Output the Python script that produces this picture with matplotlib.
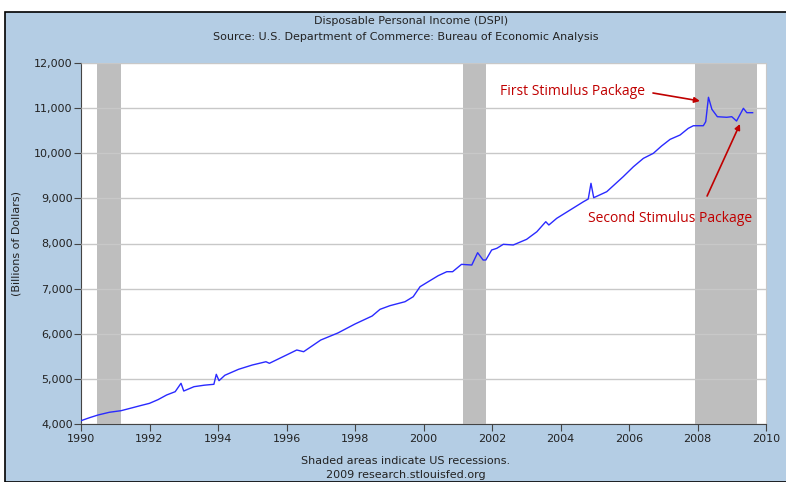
import matplotlib.pyplot as plt
import matplotlib.patches as patches
from matplotlib.ticker import FuncFormatter

# DSPI, billions of dollars (decimal years)
years = [1990.00, 1990.25, 1990.50, 1990.83, 1991.17, 1991.50, 1991.75, 1992.00,
         1992.25, 1992.50, 1992.75, 1992.92, 1993.00, 1993.30, 1993.60, 1993.88,
         1993.95, 1994.03, 1994.20, 1994.60, 1995.00, 1995.40, 1995.50, 1996.00,
         1996.30, 1996.50, 1997.00, 1997.50, 1998.00, 1998.50, 1998.73, 1999.02,
         1999.46, 1999.70, 1999.90, 2000.14, 2000.43, 2000.68, 2000.85, 2001.11,
         2001.41, 2001.58, 2001.74, 2001.82, 2001.99, 2002.14, 2002.33, 2002.62,
         2003.01, 2003.31, 2003.57, 2003.66, 2003.89, 2004.28, 2004.67, 2004.81,
         2004.89, 2004.97, 2005.35, 2005.83, 2005.98, 2006.13, 2006.42, 2006.71,
         2006.95, 2007.20, 2007.49, 2007.73, 2007.88, 2008.17, 2008.24, 2008.32,
         2008.42, 2008.58, 2008.85, 2009.00, 2009.14, 2009.34, 2009.44, 2009.61]
dspi = [4073, 4140, 4200, 4260, 4295, 4360, 4410, 4458,
        4540, 4643, 4716, 4902, 4731, 4827, 4860, 4880,
        5101, 4960, 5080, 5212, 5307, 5380, 5345, 5529,
        5640, 5602, 5861, 6017, 6216, 6393, 6541, 6622,
        6710, 6821, 7043, 7154, 7287, 7375, 7375, 7538,
        7523, 7796, 7634, 7634, 7856, 7893, 7982, 7967,
        8092, 8261, 8483, 8410, 8558, 8742, 8926, 8986,
        9334, 9015, 9148, 9480, 9591, 9702, 9887, 9998,
        10160, 10308, 10404, 10552, 10610, 10610, 10699, 11240,
        10974, 10810, 10797, 10810, 10714, 10996, 10899, 10899]

recessions = [(1990.47, 1991.17), (2001.15, 2001.82), (2007.92, 2009.74)]
yticks = [4000, 5000, 6000, 7000, 8000, 9000, 10000, 11000, 12000]
xticks = list(range(1990, 2011, 2))

bg = '#b4cde4'
red = '#c00000'
txt = '#222222'

fig = plt.figure(figsize=(7.86, 4.82), dpi=100)
fig.patch.set_facecolor('white')
fig.patches.append(patches.Rectangle((5/786, 0), 1, 1 - 12/482, transform=fig.transFigure,
                                     facecolor=bg, edgecolor='black', linewidth=1.2, zorder=-10))

ax = fig.add_axes([81/786, 58/482, 685/786, 361/482])
ax.set_facecolor('white')

for a, b in recessions:
    ax.axvspan(a, b, color='#bebebe', lw=0, zorder=1)

ax.plot(years, dspi, color='#2a2aff', lw=1.0, zorder=3)

ax.set_xlim(1990, 2010)
ax.set_ylim(4000, 12000)
ax.set_xticks(xticks)
ax.set_yticks(yticks)
ax.yaxis.set_major_formatter(FuncFormatter(lambda v, p: f'{int(v):,}'))
ax.grid(axis='y', color='#c8c8c8', lw=1, zorder=2)
ax.set_axisbelow(False)
for s in ['left', 'bottom']:
    ax.spines[s].set_color('#444444')
ax.spines['top'].set_visible(False)
ax.spines['right'].set_color('#c8c8c8')
ax.tick_params(direction='out', length=5, color='#444444', labelsize=8, labelcolor=txt)
ax.tick_params(axis='y', pad=1)
ax.tick_params(axis='x', pad=2)
ax.set_ylabel('(Billions of Dollars)', fontsize=8, color=txt, labelpad=9)

fig.text(411/786, 1 - 21/482, 'Disposable Personal Income (DSPI)', ha='center', va='center',
         fontsize=8, color=txt)
fig.text(406/786, 1 - 37/482, 'Source: U.S. Department of Commerce: Bureau of Economic Analysis',
         ha='center', va='center', fontsize=8, color=txt)
fig.text(406/786, 1 - 461/482, 'Shaded areas indicate US recessions.', ha='center', va='center',
         fontsize=8, color=txt)
fig.text(406/786, 1 - 475/482, '2009 research.stlouisfed.org', ha='center', va='center',
         fontsize=8, color=txt)

ax.text(2006.47, 11379, 'First Stimulus Package', ha='right', va='center',
        fontsize=10, color=red, family='Open Sans', zorder=5)
ax.annotate('', xy=(2008.07, 11158), xytext=(2006.70, 11335),
            arrowprops=dict(arrowstyle='-|>', color=red, lw=1.2, mutation_scale=8,
                            shrinkA=0, shrinkB=0), zorder=5)
ax.text(2007.2, 8565, 'Second Stimulus Package', ha='center', va='center',
        fontsize=10, color=red, family='Open Sans', zorder=5)
ax.annotate('', xy=(2009.24, 10648), xytext=(2008.28, 9052),
            arrowprops=dict(arrowstyle='-|>', color=red, lw=1.2, mutation_scale=8,
                            shrinkA=0, shrinkB=0), zorder=5)

fig.savefig('out.png', dpi=100)
